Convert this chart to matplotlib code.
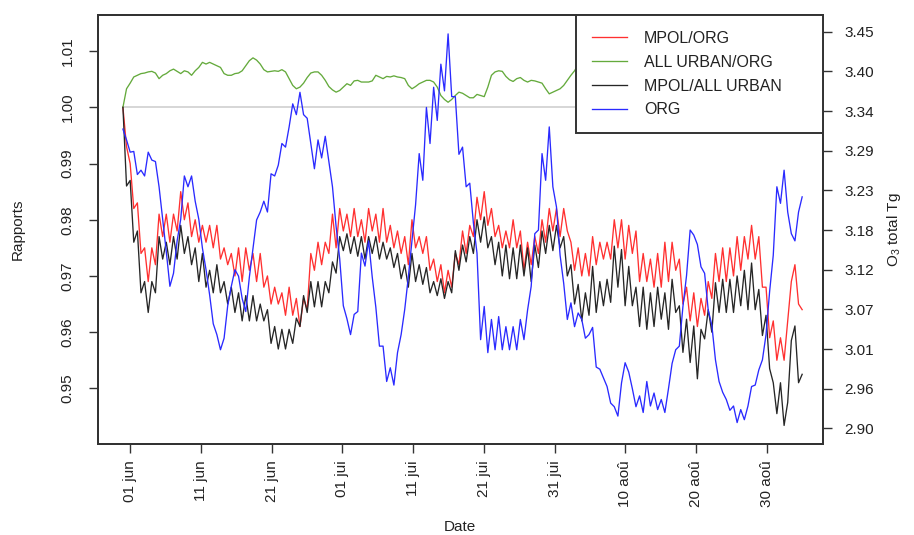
import matplotlib
matplotlib.use('Agg')
import matplotlib.pyplot as plt
import pandas as pd

plt.rcParams['font.family'] = ['Liberation Sans', 'DejaVu Sans']
plt.rcParams['mathtext.fontset'] = 'custom'
plt.rcParams['mathtext.rm'] = 'Liberation Sans'

mpol_org = [
    1.000, 0.993, 0.990, 0.982, 0.983, 0.974, 0.975, 0.969, 0.975, 0.972,
    0.981, 0.977, 0.981, 0.976, 0.981, 0.978, 0.985, 0.980, 0.983, 0.977,
    0.980, 0.976, 0.979, 0.976, 0.979, 0.975, 0.979, 0.973, 0.975, 0.972,
    0.974, 0.970, 0.975, 0.969, 0.975, 0.971, 0.974, 0.969, 0.974, 0.968,
    0.970, 0.965, 0.968, 0.965, 0.967, 0.963, 0.968, 0.963, 0.966, 0.961,
    0.966, 0.964, 0.974, 0.971, 0.976, 0.972, 0.976, 0.974, 0.981, 0.975,
    0.982, 0.978, 0.981, 0.977, 0.982, 0.977, 0.980, 0.976, 0.982, 0.978,
    0.981, 0.976, 0.982, 0.976, 0.979, 0.975, 0.978, 0.974, 0.977, 0.972,
    0.980, 0.975, 0.977, 0.974, 0.977, 0.971, 0.973, 0.969, 0.972, 0.967,
    0.971, 0.968, 0.974, 0.972, 0.978, 0.974, 0.979, 0.977, 0.984, 0.980,
    0.985, 0.979, 0.982, 0.977, 0.979, 0.975, 0.978, 0.975, 0.980, 0.975,
    0.978, 0.971, 0.976, 0.972, 0.977, 0.974, 0.980, 0.976, 0.982, 0.978,
    0.982, 0.977, 0.982, 0.978, 0.976, 0.971, 0.975, 0.970,
    0.974, 0.970, 0.977, 0.972, 0.976, 0.973, 0.976, 0.973, 0.980, 0.975,
    0.980, 0.973, 0.979, 0.974, 0.978, 0.969, 0.974, 0.969, 0.973, 0.968,
    0.974, 0.968, 0.976, 0.969, 0.976, 0.971, 0.973, 0.965, 0.968, 0.962,
    0.967, 0.961, 0.966, 0.963, 0.969, 0.966, 0.974, 0.969, 0.975, 0.969,
    0.975, 0.970, 0.977, 0.971, 0.977, 0.973, 0.979, 0.973, 0.977, 0.968,
    0.968, 0.959, 0.962, 0.955, 0.959, 0.955, 0.962, 0.969, 0.972, 0.965,
    0.964,
]

all_urban_org = [
    1.0000, 1.0033, 1.0043, 1.0054, 1.0057, 1.0060, 1.0061, 1.0063, 1.0064, 1.0061,
    1.0051, 1.0057, 1.0060, 1.0065, 1.0068, 1.0064, 1.0060, 1.0065, 1.0063, 1.0057,
    1.0065, 1.0071, 1.0080, 1.0077, 1.0080, 1.0077, 1.0074, 1.0071, 1.0060, 1.0057,
    1.0057, 1.0060, 1.0061, 1.0065, 1.0074, 1.0083, 1.0088, 1.0084, 1.0077, 1.0067,
    1.0063, 1.0064, 1.0065, 1.0064, 1.0067, 1.0063, 1.0051, 1.0039, 1.0033, 1.0036,
    1.0043, 1.0053, 1.0061, 1.0063, 1.0063, 1.0057, 1.0048, 1.0037, 1.0031, 1.0027,
    1.0030, 1.0036, 1.0042, 1.0039, 1.0047, 1.0048, 1.0045, 1.0045, 1.0045, 1.0047,
    1.0057, 1.0054, 1.0051, 1.0055, 1.0054, 1.0056, 1.0054, 1.0053, 1.0051, 1.0039,
    1.0033, 1.0037, 1.0042, 1.0045, 1.0048, 1.0048, 1.0045, 1.0036, 1.0021, 1.0014,
    1.0009, 1.0014, 1.0021, 1.0027, 1.0025, 1.0021, 1.0017, 1.0017, 1.0023, 1.0021,
    1.0019, 1.0036, 1.0057, 1.0063, 1.0065, 1.0064, 1.0055, 1.0049, 1.0046, 1.0051,
    1.0053, 1.0048, 1.0045, 1.0048, 1.0047, 1.0045, 1.0043, 1.0033, 1.0024, 1.0027,
    1.0030, 1.0033, 1.0039, 1.0048, 1.0057, 1.0065, 1.0076, 1.0085,
]

mpol_all_urban = [
    1.000, 0.986, 0.987, 0.976, 0.978, 0.967, 0.969, 0.9635, 0.969, 0.967,
    0.977, 0.973, 0.976, 0.972, 0.977, 0.973, 0.979, 0.974, 0.977, 0.972,
    0.975, 0.969, 0.974, 0.968, 0.971, 0.967, 0.972, 0.967, 0.969, 0.965,
    0.968, 0.9635, 0.967, 0.962, 0.9665, 0.962, 0.9665, 0.962, 0.965, 0.962,
    0.964, 0.958, 0.961, 0.957, 0.9605, 0.957, 0.9605, 0.958, 0.9625, 0.961,
    0.9665, 0.9635, 0.969, 0.9645, 0.969, 0.9645, 0.969, 0.967, 0.9725, 0.9705,
    0.977, 0.9745, 0.9775, 0.974, 0.977, 0.9735, 0.977, 0.973, 0.977, 0.974,
    0.977, 0.973, 0.976, 0.973, 0.975, 0.9715, 0.974, 0.9695, 0.972, 0.968,
    0.974, 0.969, 0.972, 0.9685, 0.9715, 0.967, 0.969, 0.9665, 0.9695, 0.966,
    0.969, 0.967, 0.9745, 0.971, 0.9755, 0.9725, 0.977, 0.974, 0.980, 0.976,
    0.9805, 0.975, 0.977, 0.972, 0.976, 0.970, 0.9755, 0.9695, 0.975, 0.9695,
    0.9755, 0.970, 0.975, 0.969, 0.9755, 0.9715, 0.978, 0.974, 0.979, 0.9745,
    0.979, 0.975, 0.977, 0.970, 0.972, 0.965, 0.9685, 0.962,
    0.967, 0.963, 0.9717, 0.9635, 0.969, 0.9647, 0.9694, 0.9653, 0.9753, 0.968,
    0.9747, 0.9647, 0.9717, 0.9647, 0.968, 0.961, 0.968, 0.9605, 0.967, 0.961,
    0.968, 0.9623, 0.967, 0.9605, 0.9694, 0.9635, 0.9647, 0.9564, 0.9623, 0.9546,
    0.9611, 0.9517, 0.9605, 0.9588, 0.964, 0.960, 0.9688, 0.9635, 0.9694, 0.9635,
    0.9694, 0.9635, 0.970, 0.9647, 0.971, 0.964, 0.9723, 0.964, 0.9676, 0.9594,
    0.963, 0.9535, 0.951, 0.9455, 0.951, 0.9434, 0.9475, 0.9585, 0.9611, 0.951,
    0.9525,
]

# total O3 (Tg) of the ORG run, right axis
org = [
    3.315, 3.300, 3.283, 3.284, 3.252, 3.258, 3.250, 3.283, 3.272, 3.270,
    3.235, 3.190, 3.145, 3.097, 3.115, 3.160, 3.190, 3.250, 3.235, 3.250,
    3.215, 3.190, 3.150, 3.120, 3.085, 3.045, 3.030, 3.009, 3.025, 3.070,
    3.097, 3.120, 3.111, 3.080, 3.062, 3.110, 3.150, 3.189, 3.200, 3.215,
    3.200, 3.253, 3.250, 3.265, 3.295, 3.290, 3.318, 3.350, 3.335, 3.366,
    3.335, 3.330, 3.295, 3.260, 3.300, 3.275, 3.305, 3.270, 3.235, 3.180,
    3.135, 3.070, 3.052, 3.030, 3.058, 3.062, 3.143, 3.125, 3.160, 3.110,
    3.068, 3.014, 3.014, 2.965, 2.984, 2.960, 3.005, 3.030, 3.065, 3.110,
    3.160, 3.210, 3.281, 3.244, 3.345, 3.295, 3.373, 3.327, 3.405, 3.368,
    3.447, 3.360, 3.360, 3.280, 3.290, 3.235, 3.240, 3.185, 3.143, 3.023,
    3.069, 3.005, 3.051, 3.009, 3.055, 3.009, 3.041, 3.009, 3.041, 3.009,
    3.051, 3.023, 3.064, 3.097, 3.170, 3.175, 3.281, 3.244, 3.318, 3.235,
    3.207, 3.140, 3.101, 3.051, 3.074, 3.041, 3.060, 3.051,
    3.025, 3.030, 3.040, 2.985, 2.982, 2.970, 2.958, 2.935, 2.930, 2.917,
    2.963, 2.991, 2.978, 2.955, 2.930, 2.945, 2.922, 2.965, 2.931, 2.949,
    2.926, 2.940, 2.922, 2.955, 2.990, 3.009, 3.014, 3.069, 3.112, 3.175,
    3.168, 3.155, 3.124, 3.115, 3.064, 3.043, 2.995, 2.965, 2.950, 2.940,
    2.925, 2.931, 2.908, 2.926, 2.912, 2.931, 2.958, 2.960, 2.981, 2.995,
    3.030, 3.090, 3.140, 3.235, 3.212, 3.258, 3.200, 3.170, 3.160, 3.200,
    3.221,
]

tick_dates = ['2006-06-01', '2006-06-11', '2006-06-21', '2006-07-01', '2006-07-11',
              '2006-07-21', '2006-07-31', '2006-08-10', '2006-08-20', '2006-08-30']
tick_labels = ['01 jun', '11 jun', '21 jun', '01 jui', '11 jui',
               '21 jui', '31 jui', '10 aoû', '20 aoû', '30 aoû']
left_ticks = [0.95, 0.96, 0.97, 0.98, 0.99, 1.00, 1.01]
right_labels = ['2.90', '2.96', '3.01', '3.07', '3.12', '3.18',
                '3.23', '3.29', '3.34', '3.40', '3.45']

times = pd.date_range('2006-05-31', '2006-09-04', periods=len(org))

fig = plt.figure(figsize=(9.14, 5.35), dpi=100)
ax = fig.add_axes([0.1067, 0.170, 0.7933, 0.8019])
ax2 = ax.twinx()

frame_col = '#333333'
txt_col = '#222222'

# reference line at 1
ax.plot(times, [1.0] * len(times), color='#d6d6d6', lw=1.4, zorder=1)
l1, = ax.plot(times, mpol_org, color='#ff3030', lw=0.95, label='MPOL/ORG', zorder=2)
l2, = ax.plot(times[:len(all_urban_org)], all_urban_org, color='#64aa3c', lw=0.95,
              label='ALL URBAN/ORG', zorder=2)
l3, = ax.plot(times, mpol_all_urban, color='#262626', lw=0.95, label='MPOL/ALL URBAN', zorder=2)
l4, = ax2.plot(times, org, color='#2a2aff', lw=0.95, label='ORG', zorder=2)

ax.set_xlim(pd.Timestamp('2006-05-27 09:50'), pd.Timestamp('2006-09-06 21:20'))
ax.set_ylim(0.94009, 1.01642)
ax2.set_ylim(2.87822, 3.47316)

ax.set_xticks([pd.Timestamp(d) for d in tick_dates])
ax.set_xticklabels(tick_labels, rotation=90, fontsize=11, color=txt_col)
ax.set_yticks(left_ticks)
ax.set_yticklabels(['%.2f' % v for v in left_ticks], rotation=90, va='center',
                   fontsize=11, color=txt_col)
ax2.set_yticks([2.90 + 0.055 * i for i in range(len(right_labels))])
ax2.set_yticklabels(right_labels, fontsize=11, color=txt_col)

ax.tick_params(axis='x', direction='out', length=6.5, width=1.0, color=frame_col, pad=5)
ax.tick_params(axis='y', direction='out', length=6.5, width=1.0, color=frame_col, pad=10)
ax2.tick_params(axis='y', direction='out', length=6.5, width=1.0, color=frame_col, pad=9)

for a in (ax, ax2):
    for s in a.spines.values():
        s.set_color(frame_col)
        s.set_linewidth(1.4)

ax.set_xlabel('Date', fontsize=11, color=txt_col)
ax.xaxis.set_label_coords(0.5, -0.178)
ax.set_ylabel('Rapports', fontsize=11, color=txt_col)
ax.yaxis.set_label_coords(-0.100, 0.5)
ax2.set_ylabel('O$_3$ total Tg', fontsize=11, color=txt_col)
ax2.yaxis.set_label_coords(1.086, 0.5)

leg = ax2.legend([l1, l2, l3, l4], [l.get_label() for l in (l1, l2, l3, l4)],
                 loc='upper left', bbox_to_anchor=(0.66, 1.0, 0.34, 0.0), mode='expand',
                 borderaxespad=0, fancybox=False, framealpha=1, edgecolor=frame_col,
                 fontsize=11.5, handlelength=2.2, handletextpad=1.05, borderpad=1.0,
                 labelspacing=0.55)
leg.get_frame().set_linewidth(1.4)
for t in leg.get_texts():
    t.set_color(txt_col)

fig.savefig('out.png', dpi=100)
